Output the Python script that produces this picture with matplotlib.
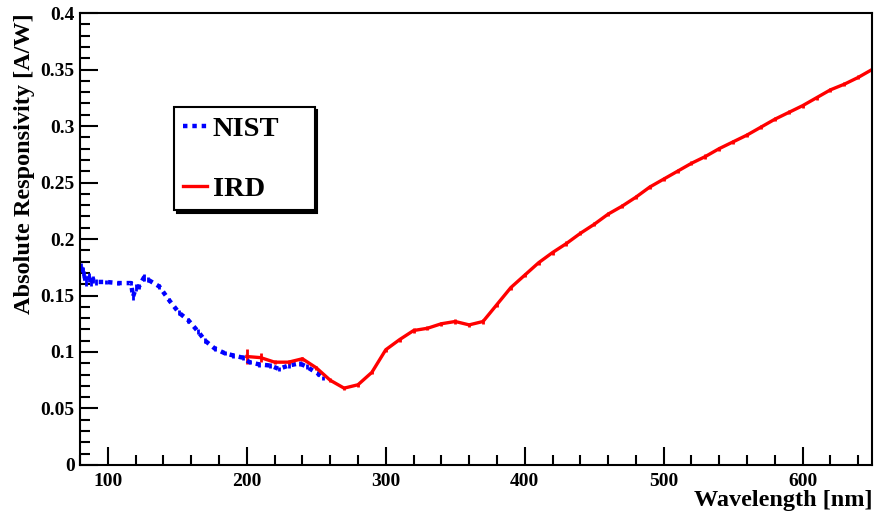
import matplotlib.pyplot as plt
from matplotlib.lines import Line2D
from matplotlib.ticker import MultipleLocator

plt.rcParams['font.family'] = ['Liberation Serif', 'DejaVu Serif']
plt.rcParams['font.weight'] = 'bold'

# NIST calibration (dotted blue)
nist_wl = [80.7, 82.2, 82.9, 84.3, 86.5, 87.9, 89.3, 91.5, 98.7, 107.3, 116.7,
           118.1, 120.3, 122.4, 126.0, 128.9, 137, 144, 151, 158, 165, 170,
           177, 184, 190, 197, 202, 209, 217, 223, 230, 238, 243, 251, 255]
nist_resp = [0.175, 0.171, 0.168, 0.162, 0.166, 0.161, 0.164, 0.162, 0.162,
             0.161, 0.161, 0.149, 0.157, 0.158, 0.166, 0.164, 0.158, 0.146,
             0.135, 0.128, 0.118, 0.110, 0.103, 0.099, 0.097, 0.095, 0.091,
             0.089, 0.088, 0.085, 0.088, 0.090, 0.087, 0.081, 0.077]
nist_err = [0.004, 0.004, 0.004, 0.004, 0.004, 0.003, 0.003, 0.003, 0.002,
            0.002, 0.002, 0.003, 0.003, 0.002, 0.003, 0.002, 0.002, 0.002,
            0.002, 0.002, 0.002, 0.002, 0.002, 0.002, 0.002, 0.002, 0.002,
            0.002, 0.002, 0.002, 0.002, 0.002, 0.002, 0.002, 0.002]

# IRD calibration (solid red)
ird_wl = list(range(200, 660, 10))
ird_resp = [0.096, 0.095, 0.091, 0.091, 0.094, 0.086, 0.075, 0.068, 0.071,
            0.082, 0.102, 0.111, 0.119, 0.121, 0.125, 0.127, 0.124, 0.127,
            0.142, 0.157, 0.168, 0.179, 0.188, 0.196, 0.205, 0.213, 0.222,
            0.229, 0.237, 0.246, 0.253, 0.260, 0.267, 0.273, 0.280, 0.286,
            0.292, 0.299, 0.306, 0.312, 0.318, 0.325, 0.332, 0.337, 0.343,
            0.350]
ird_err = [0.0065, 0.004] + [0.0018] * 44

fig = plt.figure(figsize=(8.8, 5.17), dpi=100)
ax = fig.add_axes([0.091, 0.1006, 0.9, 0.8742])

nist_style = dict(color='#0000ff', lw=3.2, ls=(0, (1, 1.1)))
ird_style = dict(color='#ff0000', lw=2.4)
ax.errorbar(nist_wl, nist_resp, yerr=nist_err, elinewidth=2, capsize=0, **nist_style)
ax.errorbar(ird_wl, ird_resp, yerr=ird_err, elinewidth=2, capsize=0, **ird_style)

ax.set_xlim(80, 650)
ax.set_ylim(0, 0.4)
ax.xaxis.set_major_locator(MultipleLocator(100))
ax.xaxis.set_minor_locator(MultipleLocator(20))
ax.yaxis.set_major_locator(MultipleLocator(0.05))
ax.yaxis.set_minor_locator(MultipleLocator(0.01))
ax.yaxis.set_major_formatter(plt.FuncFormatter(lambda v, p: ('%g' % round(v, 2))))
ax.tick_params(which='both', direction='in', width=1.5, labelsize=14)
ax.tick_params(which='major', length=13)
ax.tick_params(which='minor', length=7)
ax.tick_params(axis='x', pad=6)
ax.tick_params(axis='y', pad=4)
for s in ax.spines.values():
    s.set_linewidth(1.5)

ax.set_xlabel('Wavelength [nm]', loc='right', fontsize=17.5, fontweight='bold', labelpad=0)
ax.set_ylabel('Absolute Responsivity [A/W]', loc='top', fontsize=17.5, fontweight='bold', labelpad=4)

handles = [Line2D([], [], **nist_style), Line2D([], [], **ird_style)]
leg = ax.legend(handles, ['NIST', 'IRD'], loc='upper left',
                bbox_to_anchor=(0.119, 0.0, 0.177, 0.792), mode='expand',
                fontsize=20.5, frameon=True, fancybox=False, edgecolor='black',
                borderpad=0.3, labelspacing=1.2, handlelength=0.85,
                handletextpad=0.2, borderaxespad=0,
                shadow={'color': 'black', 'alpha': 1})
leg.get_frame().set_linewidth(1.5)

fig.savefig('out.png', dpi=100)
